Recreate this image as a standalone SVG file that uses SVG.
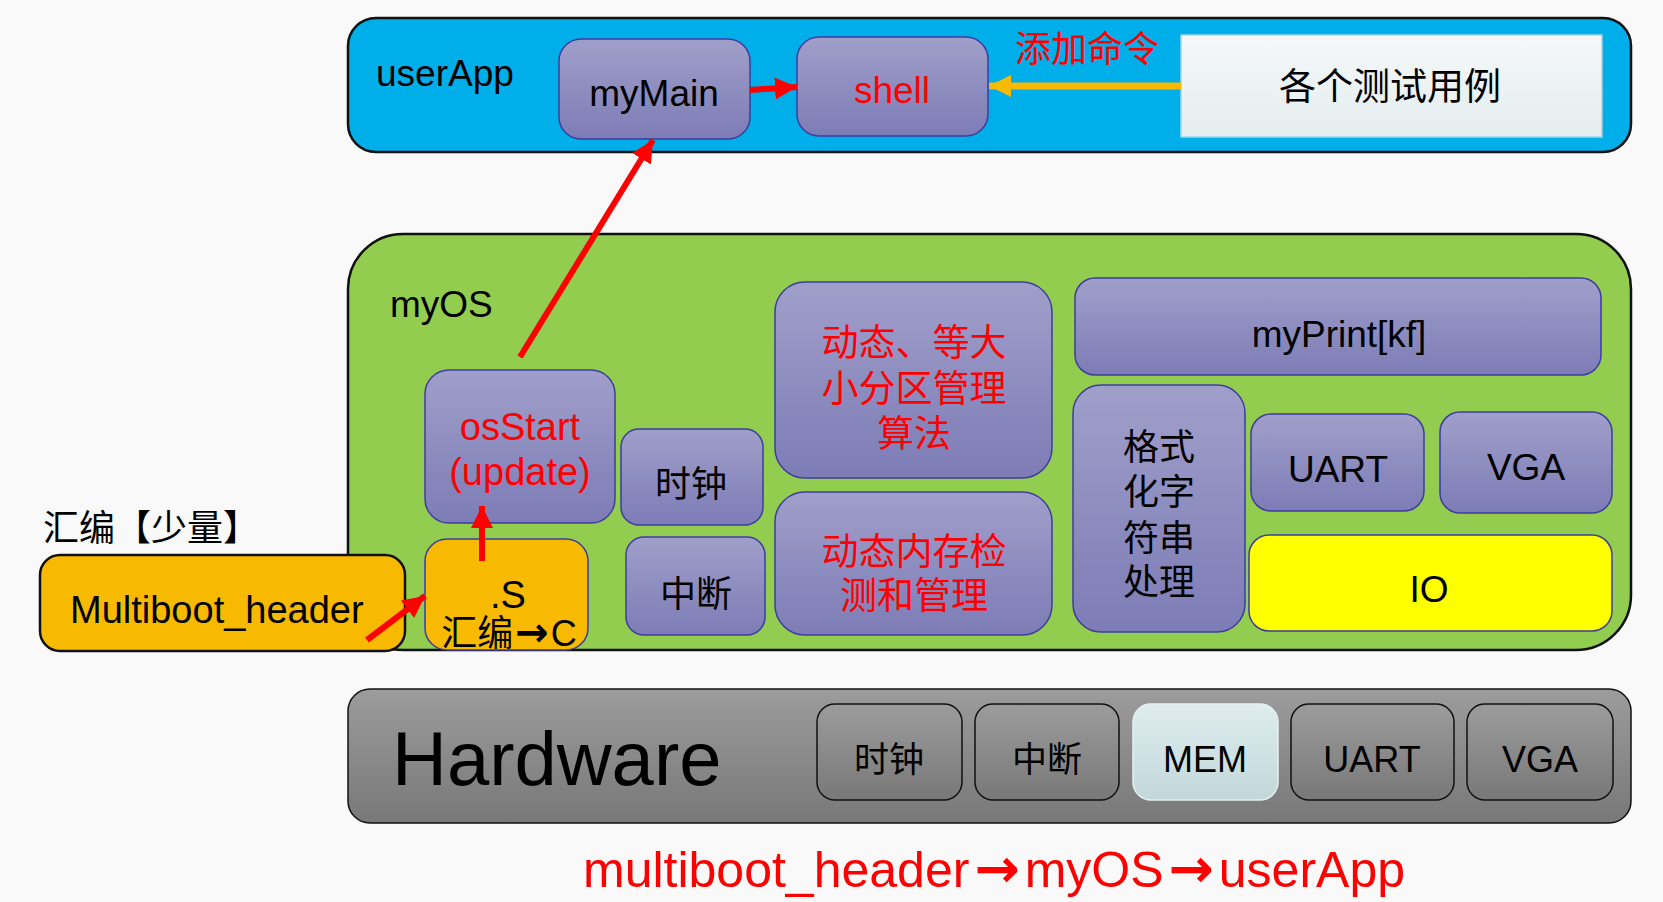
<svg xmlns="http://www.w3.org/2000/svg" width="1663" height="902" viewBox="0 0 1663 902">
  <defs>
    <linearGradient id="gPurple" x1="0" y1="0" x2="0" y2="1">
      <stop offset="0" stop-color="#A09FCA"/>
      <stop offset="1" stop-color="#7D7CB6"/>
    </linearGradient>
    <linearGradient id="gGray" x1="0" y1="0" x2="0" y2="1">
      <stop offset="0" stop-color="#9C9C9C"/>
      <stop offset="1" stop-color="#787878"/>
    </linearGradient>
    <linearGradient id="gMem" x1="0" y1="0" x2="0" y2="1">
      <stop offset="0" stop-color="#DEEDEF"/>
      <stop offset="1" stop-color="#C2D7DA"/>
    </linearGradient>
    <linearGradient id="gTest" x1="0" y1="0" x2="0" y2="1">
      <stop offset="0" stop-color="#F5F8F9"/>
      <stop offset="1" stop-color="#E4EDEF"/>
    </linearGradient>
    <marker id="headRed" markerUnits="userSpaceOnUse" markerWidth="24" markerHeight="22" refX="22" refY="11" orient="auto">
      <path d="M0,0 L22,11 L0,22 z" fill="#FF0000"/>
    </marker>
    <marker id="headGold" markerUnits="userSpaceOnUse" markerWidth="24" markerHeight="22" refX="22" refY="11" orient="auto">
      <path d="M0,0 L22,11 L0,22 z" fill="#F8BA00"/>
    </marker>
  </defs>
  <style>
    .lat { font-family: "Liberation Sans", Arial, sans-serif; }
    .cjk { font-family: "Liberation Sans", "Noto Sans CJK SC", sans-serif; }
    .arw { font-family: "DejaVu Sans", sans-serif; font-weight: bold; }
    .mid { text-anchor: middle; }
    .blk { fill: #000000; }
    .red { fill: #FF0000; }
    .layer { stroke: #111111; stroke-width: 2.5; }
    .mod { fill: url(#gPurple); stroke: #3E3D9E; stroke-width: 1.5; }
    .hw { fill: url(#gGray); stroke: #111111; stroke-width: 1.5; }
    .arrow { fill: none; stroke: #FF0000; stroke-width: 6; marker-end: url(#headRed); }
    .arrowGold { fill: none; stroke: #F8BA00; stroke-width: 7; marker-end: url(#headGold); }
  </style>

  <rect width="1663" height="902" fill="#F9F9F9"/>

  <!-- application layer -->
  <g id="userApp">
    <rect x="348" y="18" width="1283" height="134" rx="28" fill="#00AEEA" class="layer"/>
    <text x="376" y="86" class="lat blk" font-size="37">userApp</text>
  </g>
  <g id="myMain">
    <rect x="559" y="39" width="191" height="100" rx="22" class="mod"/>
    <text x="654" y="106" class="lat blk mid" font-size="37">myMain</text>
  </g>
  <g id="shell">
    <rect x="797" y="37" width="191" height="99" rx="22" class="mod"/>
    <text x="892" y="103" class="lat red mid" font-size="37">shell</text>
  </g>
  <g id="addCmd">
    <text x="1015" y="62" class="cjk red" font-size="36">添加命令</text>
  </g>
  <g id="testCases">
    <rect x="1181" y="35" width="421" height="102" fill="url(#gTest)" stroke="#9ED6EC" stroke-width="1.5"/>
    <text x="1390" y="100" class="cjk blk mid" font-size="37">各个测试用例</text>
  </g>

  <!-- kernel layer -->
  <g id="myOS">
    <rect x="348" y="234" width="1283" height="416" rx="55" fill="#92CD50" class="layer"/>
    <text x="390" y="317" class="lat blk" font-size="37">myOS</text>
  </g>
  <g id="osStart">
    <rect x="425" y="370" width="190" height="153" rx="24" class="mod"/>
    <text x="520" y="440" class="lat red mid" font-size="38">osStart</text>
    <text x="520" y="485" class="lat red mid" font-size="38">(update)</text>
  </g>
  <g id="asmS">
    <rect x="425" y="539" width="163" height="111" rx="22" fill="#F8BA00" stroke="#3E3D9E" stroke-width="1.5"/>
    <text x="508" y="608" class="lat blk mid" font-size="38">.S</text>
    <text x="509" y="646" class="cjk blk mid" font-size="36">汇编<tspan class="arw" font-size="40" dx="2">→</tspan><tspan dx="2">C</tspan></text>
  </g>
  <g id="clockOS">
    <rect x="621" y="429" width="142" height="96" rx="18" class="mod"/>
    <text x="691" y="497" class="cjk blk mid" font-size="36">时钟</text>
  </g>
  <g id="irqOS">
    <rect x="626" y="537" width="139" height="98" rx="18" class="mod"/>
    <text x="696" y="607" class="cjk blk mid" font-size="36">中断</text>
  </g>
  <g id="partitionAlloc">
    <rect x="775" y="282" width="277" height="196" rx="30" class="mod"/>
    <text x="914" y="356" class="cjk red mid" font-size="37">动态、等大</text>
    <text x="914" y="402" class="cjk red mid" font-size="37">小分区管理</text>
    <text x="914" y="447" class="cjk red mid" font-size="37">算法</text>
  </g>
  <g id="memCheck">
    <rect x="775" y="492" width="277" height="143" rx="30" class="mod"/>
    <text x="914" y="565" class="cjk red mid" font-size="37">动态内存检</text>
    <text x="914" y="609" class="cjk red mid" font-size="37">测和管理</text>
  </g>
  <g id="myPrint">
    <rect x="1075" y="278" width="526" height="97" rx="20" class="mod"/>
    <text x="1339" y="347" class="lat blk mid" font-size="37">myPrint[kf]</text>
  </g>
  <g id="formatStr">
    <rect x="1073" y="385" width="172" height="247" rx="28" class="mod"/>
    <text x="1159" y="460" class="cjk blk mid" font-size="36">格式</text>
    <text x="1159" y="505" class="cjk blk mid" font-size="36">化字</text>
    <text x="1159" y="551" class="cjk blk mid" font-size="36">符串</text>
    <text x="1159" y="595" class="cjk blk mid" font-size="36">处理</text>
  </g>
  <g id="uartOS">
    <rect x="1251" y="414" width="173" height="97" rx="20" class="mod"/>
    <text x="1338" y="482" class="lat blk mid" font-size="37">UART</text>
  </g>
  <g id="vgaOS">
    <rect x="1440" y="412" width="172" height="101" rx="20" class="mod"/>
    <text x="1526" y="480" class="lat blk mid" font-size="37">VGA</text>
  </g>
  <g id="io">
    <rect x="1249" y="535" width="363" height="96" rx="20" fill="#FFFF00" stroke="#3E3D9E" stroke-width="1.5"/>
    <text x="1429" y="602" class="lat blk mid" font-size="37">IO</text>
  </g>

  <!-- boot header -->
  <g id="asmNote">
    <text x="43" y="541" class="cjk blk" font-size="36">汇编【少量】</text>
  </g>
  <g id="multiboot">
    <rect x="40" y="555" width="365" height="96" rx="20" fill="#F8BA00" stroke="#111111" stroke-width="2.5"/>
    <text x="70" y="623" class="lat blk" font-size="38">Multiboot_header</text>
  </g>

  <!-- hardware layer -->
  <g id="hardware">
    <rect x="348" y="689" width="1283" height="134" rx="22" class="hw" stroke-width="2"/>
    <text x="392" y="785" class="lat blk" font-size="76">Hardware</text>
  </g>
  <g id="hwClock">
    <rect x="817" y="704" width="145" height="96" rx="18" class="hw"/>
    <text x="889" y="772" class="cjk blk mid" font-size="35">时钟</text>
  </g>
  <g id="hwIrq">
    <rect x="975" y="704" width="144" height="96" rx="18" class="hw"/>
    <text x="1047" y="772" class="cjk blk mid" font-size="35">中断</text>
  </g>
  <g id="hwMem">
    <rect x="1133" y="704" width="145" height="96" rx="18" fill="url(#gMem)" stroke="#E6F0F1" stroke-width="1.5"/>
    <text x="1205" y="772" class="lat blk mid" font-size="36">MEM</text>
  </g>
  <g id="hwUart">
    <rect x="1291" y="704" width="163" height="96" rx="18" class="hw"/>
    <text x="1372" y="772" class="lat blk mid" font-size="36">UART</text>
  </g>
  <g id="hwVga">
    <rect x="1467" y="704" width="146" height="96" rx="18" class="hw"/>
    <text x="1540" y="772" class="lat blk mid" font-size="36">VGA</text>
  </g>

  <!-- boot sequence caption -->
  <g id="caption">
    <text x="994" y="887" class="lat red mid" font-size="50">multiboot_header<tspan class="arw" font-size="54" dx="5">→</tspan><tspan dx="5">myOS</tspan><tspan class="arw" font-size="54" dx="5">→</tspan><tspan dx="5">userApp</tspan></text>
  </g>

  <!-- connectors -->
  <g id="connectors">
    <line x1="520" y1="357" x2="653" y2="140" class="arrow"/>
    <line x1="750" y1="90" x2="797" y2="87" class="arrow"/>
    <line x1="1181" y1="86" x2="989" y2="86" class="arrowGold"/>
    <line x1="482" y1="561" x2="482" y2="506" class="arrow"/>
    <line x1="367" y1="640" x2="425" y2="596" class="arrow"/>
  </g>
</svg>
